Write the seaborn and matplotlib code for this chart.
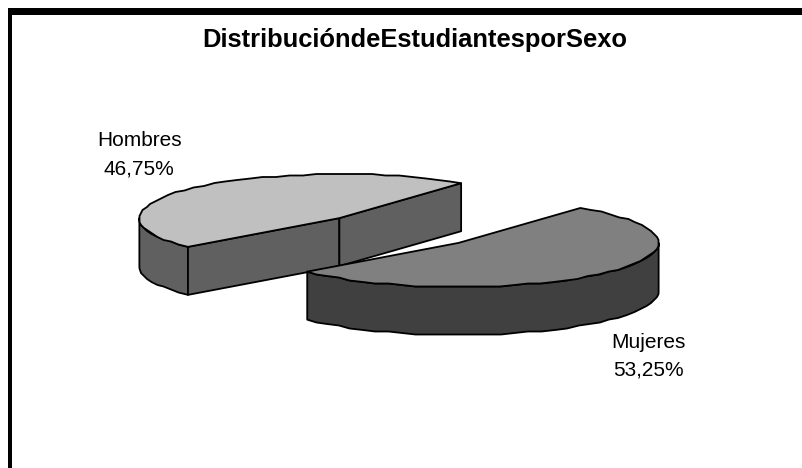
"""
Distribucion de Estudiantes por Sexo - exploded 3D style pie drawn on seaborn theme.
"""

import numpy as np
import matplotlib
matplotlib.use("Agg")
import matplotlib.pyplot as plt
from matplotlib.patches import Polygon, Rectangle
import seaborn as sns

# Data
categories = ["Hombres", "Mujeres"]
percentages = [46.75, 53.25]
value_labels = ["46,75%", "53,25%"]
title_text = "DistribucióndeEstudiantesporSexo"

top_colors = ["#C0C0C0", "#808080"]
side_colors = ["#606060", "#404040"]

# Pie geometry, in pixels
CENTER = (399.0, 230.5)
RX, RY = 200.0, 44.0
DEPTH = 48.0
START_ANGLE = 52.5
EXPLODE = 0.41
EDGE = "black"


def rim(center, t1, t2, grid=1.5):
    """Points on the ellipse rim, snapped a bit so the edge stays slightly rough."""
    n = max(int(abs(t2 - t1) / 4), 2)
    t = np.radians(np.linspace(t1, t2, n + 1))
    x = center[0] + RX * np.cos(t)
    y = center[1] - RY * np.sin(t)
    x[1:-1] = np.round(x[1:-1] / grid) * grid
    y[1:-1] = np.round(y[1:-1] / grid) * grid
    return np.column_stack([x, y])


def wall(points):
    """Vertical face hanging under a run of top edge points."""
    lower = points[::-1] + np.array([0, DEPTH])
    return np.vstack([points, lower])


sns.set_theme(style="white")
fig, ax = plt.subplots(figsize=(8.03, 4.68), dpi=100)
ax.set_position([0, 0, 1, 1])
ax.set_xlim(0, 803)
ax.set_ylim(468, 0)
ax.axis("off")

# Chart frame: only the left and top borders show
ax.add_patch(Rectangle((8, 8), 795, 7, fc="black", ec="none"))
ax.add_patch(Rectangle((8, 8), 4, 460, fc="black", ec="none"))

angles = START_ANGLE + np.cumsum([0] + percentages) * 3.6
for i, cat in enumerate(categories):
    t1, t2 = angles[i], angles[i + 1]
    mid = np.radians((t1 + t2) / 2)
    center = np.array([CENTER[0] + EXPLODE * RX * np.cos(mid),
                       CENTER[1] - EXPLODE * RY * np.sin(mid)])
    top = rim(center, t1, t2)

    style = dict(ec=EDGE, lw=1.3, joinstyle="round")
    # Outer wall, only the part of the rim facing the viewer
    front1, front2 = max(t1, 180), min(t2, 360)
    if front2 > front1:
        ax.add_patch(Polygon(wall(rim(center, front1, front2)), fc=side_colors[i], **style))
    # Cut faces, visible for the slice on the back
    if i == 0:
        ax.add_patch(Polygon(wall(np.array([top[-1], center])), fc=side_colors[i], **style))
        ax.add_patch(Polygon(wall(np.array([center, top[0]])), fc=side_colors[i], **style))
    ax.add_patch(Polygon(np.vstack([center, top]), fc=top_colors[i], **style))

# Title and data labels
ax.text(415, 40.5, title_text, ha="center", va="center", fontsize=18.4,
        fontweight="bold", family="Liberation Sans", color="black")
ax.text(140, 140, categories[0], ha="center", va="center", fontsize=15,
        family="Liberation Sans", color="black")
ax.text(139, 169, value_labels[0], ha="center", va="center", fontsize=15,
        family="Liberation Sans", color="black")
ax.text(648, 342, categories[1], ha="center", va="center", fontsize=15,
        family="Liberation Sans", color="black")
ax.text(648, 370, value_labels[1], ha="center", va="center", fontsize=15,
        family="Liberation Sans", color="black")

fig.savefig("out.png", dpi=100)
